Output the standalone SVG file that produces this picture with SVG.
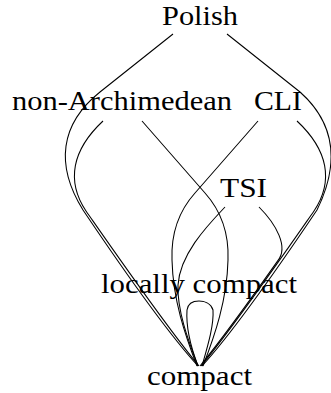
<svg xmlns="http://www.w3.org/2000/svg" width="331" height="393" viewBox="0 0 331 393">
<style>
.e{fill:none;stroke:#000;stroke-width:1.05}
text{font-family:'Liberation Serif','Times New Roman',serif;font-size:28px;fill:#000;text-anchor:middle}
</style>
<rect width="331" height="393" fill="#fff"/>
<g id="connectors">
<path class="e" d="M173,34 L100,92 C60,124 55,165 83,210 C120,265 165,330 198,366"/>
<path class="e" d="M227,34 L300,92 C336,124 339,165 317,210 C280,265 235,330 202,366"/>
<path class="e" d="M103,121 C72,150 66,181 86,211 C123,264 168,329 199,366"/>
<path class="e" d="M297,121 C328,150 334,181 314,211 C277,264 232,329 201,366"/>
<path class="e" d="M142,121 L205,193 C222,212 229,235 228,260 C227,300 215,335 203,366"/>
<path class="e" d="M258,121 L195,193 C178,212 171,235 172,260 C173,300 185,335 197,366"/>
<path class="e" d="M225,207 C205,228 180,255 178,285 C177,310 188,340 198,366"/>
<path class="e" d="M259,207 C276,224 289,247 277.7,260.9 C249.8,300.5 221.2,340.1 200,366"/>
<path class="e" d="M198,366 C190,345 186,325 187,310 C188,303 194,301 199,301 C204,301 211,303 213,310 C214,325 208,345 202,366"/>
</g>
<g id="polish"><text x="200" y="25" textLength="76" lengthAdjust="spacingAndGlyphs">Polish</text></g>
<g id="non-archimedean"><text x="122" y="110" textLength="220" lengthAdjust="spacingAndGlyphs">non-Archimedean</text></g>
<g id="cli"><text x="278" y="110" textLength="48" lengthAdjust="spacingAndGlyphs">CLI</text></g>
<g id="tsi"><text x="243.5" y="197" textLength="47" lengthAdjust="spacingAndGlyphs">TSI</text></g>
<g id="locally-compact"><text x="199" y="293" textLength="196" lengthAdjust="spacingAndGlyphs">locally compact</text></g>
<g id="compact"><text x="199.5" y="385" textLength="105" lengthAdjust="spacingAndGlyphs">compact</text></g>
</svg>
